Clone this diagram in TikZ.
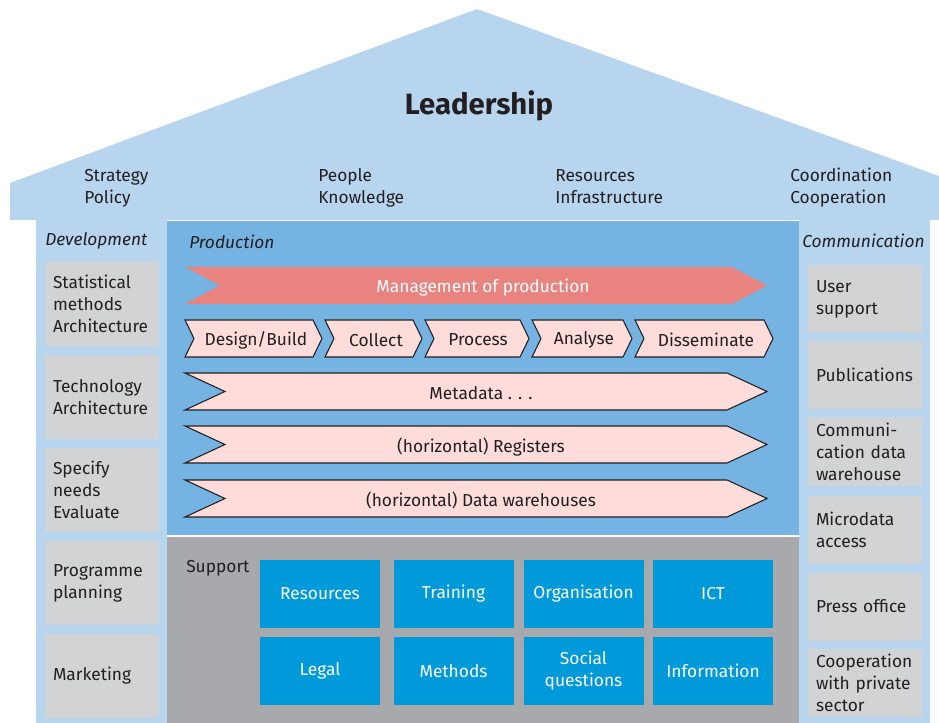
\documentclass[tikz,border=0pt]{standalone}
\usepackage{fontspec}
\setmainfont{Fira Sans}
\usepackage{tikz}
\usetikzlibrary{positioning,calc}
\definecolor{roofblue}{HTML}{B7D5EF}
\definecolor{prodblue}{HTML}{75B3E3}
\definecolor{supgray}{HTML}{A7A9AC}
\definecolor{boxgray}{HTML}{D1D3D4}
\definecolor{supblue}{HTML}{0099DA}
\definecolor{mgmtred}{HTML}{E88380}
\definecolor{chevpink}{HTML}{FDDCDA}
\definecolor{inkdark}{HTML}{231F20}
\tikzstyle{devbox} = [rectangle, fill=boxgray, minimum width=85.5pt, minimum height=63pt, text width=73.5pt, align=left, inner xsep=6pt]
\tikzstyle{combox} = [rectangle, fill=boxgray, minimum width=85.5pt, minimum height=51pt, text width=73.5pt, align=left, inner xsep=6pt]
\tikzstyle{supbox} = [rectangle, fill=supblue, text=white, minimum width=90pt, minimum height=51pt, align=center]
\tikzstyle{pillar} = [anchor=west, inner sep=0pt, align=left]
\tikzstyle{coltitle} = [anchor=west, inner sep=0pt, font=\fontsize{13}{16.5}\selectfont\itshape]
\tikzstyle{chevtext} = [inner sep=0pt]
\tikzstyle{pinkchev} = [fill=chevpink, draw=inkdark, line width=0.8pt]
% chevron: [style] x left, x tip, y top, y bottom, depth
\newcommand{\chevron}[6][]{%
  \path[#1] (#2,#4) -- ({#3-#6},#4) -- (#3,{(#4+#5)/2}) -- ({#3-#6},#5)
    -- (#2,#5) -- ({#2+#6},{(#4+#5)/2}) -- cycle;}

\begin{document}
\begin{tikzpicture}[x=0.75pt, y=-0.75pt, every node/.style={text=inkdark, font=\fontsize{13}{16.5}\selectfont}]
\useasboundingbox (0,0) rectangle (939,723);
% house
\fill[roofblue] (10,220) -- (10,183) -- (477,9) -- (939,176) -- (939,220) -- cycle;
\fill[roofblue] (36,220) rectangle (167,723);
\fill[roofblue] (799,220) rectangle (930,723);
\fill[prodblue] (167,221.5) rectangle (799,534.5);
\fill[supgray] (167,537) rectangle (799,723);

% roof
\node (lead) at (479,106) [font=\fontsize{22}{26}\selectfont\bfseries] {Leadership};
\node (strat) at (84,188) [pillar] {Strategy\\Policy};
\node (people) at (318,188) [pillar] {People\\Knowledge};
\node (resinf) at (555,187) [pillar] {Resources\\Infrastructure};
\node (coord) at (790,188) [pillar] {Coordination\\Cooperation};

% development
\node (devtitle) at (45,241) [coltitle] {Development};
\node (dev1) at (102,304) [devbox] {Statistical\\methods\\Architecture};
\node (dev2) at (102,397.5) [devbox] {Technology\\Architecture};
\node (dev3) at (102,490) [devbox] {Specify\\needs\\Evaluate};
\node (dev4) at (102,583) [devbox] {Programme\\planning};
\node (dev5) at (102,676) [devbox] {Marketing};

% communication
\node (comtitle) at (802,240.5) [coltitle] {Communication};
\node (com1) at (865,299) [combox] {User\\support};
\node (com2) at (865,375) [combox] {Publications};
\node (com3) at (865,451.5) [combox] {Communi-\\cation data\\warehouse};
\node (com4) at (865,530) [combox] {Microdata\\access};
\node (com5) at (865,606.5) [combox] {Press office};
\node (com6) at (865,682.5) [combox] {Cooperation\\with private\\sector};

% production
\node (prodtitle) at (189,242) [coltitle] {Production};
\chevron[fill=mgmtred]{185}{767}{267}{304}{35}
\node (mgmt) at (483,288) [chevtext, text=white] {Management of production};
\chevron[pinkchev]{185}{322}{320}{357}{9}
\chevron[pinkchev]{325}{422}{320}{357}{9}
\chevron[pinkchev]{425}{529}{320}{357}{9}
\chevron[pinkchev]{532}{632}{320}{357}{9}
\chevron[pinkchev]{635}{773}{320}{357}{9}
\node (design) at (256,340) [chevtext] {Design/Build};
\node (collect) at (376,340) [chevtext] {Collect};
\node (process) at (478,340) [chevtext] {Process};
\node (analyse) at (584,340) [chevtext] {Analyse};
\node (dissem) at (706,340) [chevtext] {Disseminate};
\chevron[pinkchev]{185}{767}{373}{410}{40}
\chevron[pinkchev]{185}{767}{426}{463}{40}
\chevron[pinkchev]{185}{767}{480}{517}{40}
\node (meta) at (481,393) [chevtext] {Metadata . . .};
\node (regs) at (481,447) [chevtext] {(horizontal) Registers};
\node (dwh) at (481,500) [chevtext] {(horizontal) Data warehouses};

% support
\node (suptitle) at (186,568) [pillar] {Support};
\node (sres) at (320,594) [supbox] {Resources};
\node (strain) at (453.5,594) [supbox] {Training};
\node (sorg) at (583.5,594) [supbox] {Organisation};
\node (sict) at (713,594) [supbox] {ICT};
\node (slegal) at (320,671) [supbox] {Legal};
\node (smeth) at (453.5,671) [supbox] {Methods};
\node (ssoc) at (583.5,671) [supbox] {Social\\questions};
\node (sinfo) at (713,671) [supbox] {Information};
\end{tikzpicture}
\end{document}
